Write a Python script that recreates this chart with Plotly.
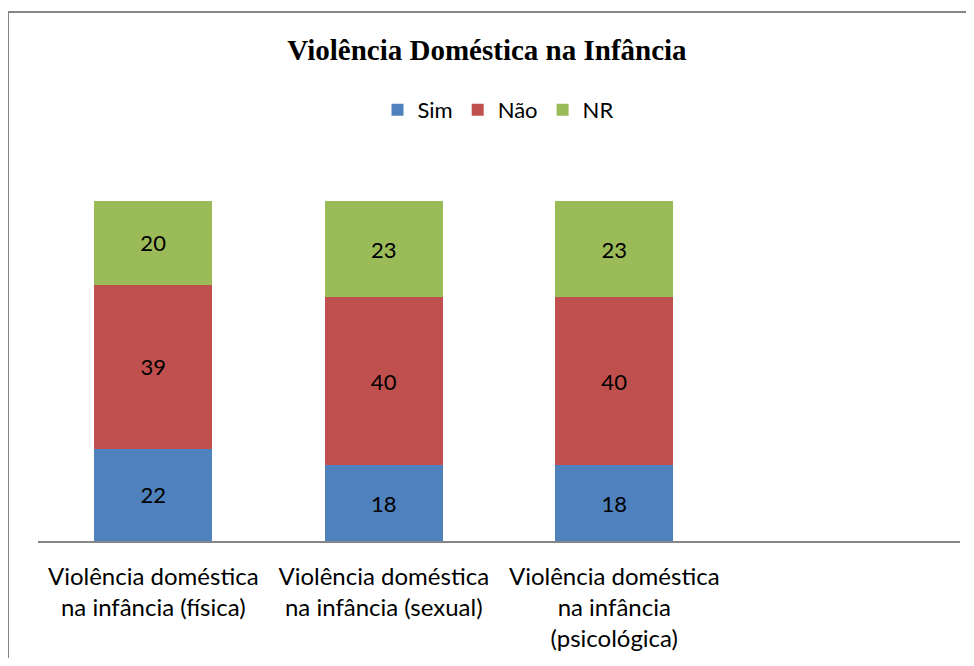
import plotly.graph_objects as go

categories = [
    "Violência doméstica<br>na infância (física)",
    "Violência doméstica<br>na infância (sexual)",
    "Violência doméstica<br>na infância<br>(psicológica)",
    " ",
]
sim = [22, 18, 18, None]
nao = [39, 40, 40, None]
nr = [20, 23, 23, None]

series = [("Sim", sim, "#4F81BD"), ("Não", nao, "#C0504D"), ("NR", nr, "#9BBB59")]

FONT = "Lato, Carlito, sans-serif"

fig = go.Figure()
for name, vals, color in series:
    fig.add_trace(go.Bar(
        x=categories, y=vals, name=name,
        marker=dict(color=color, line=dict(width=0)),
        text=[str(v) if v is not None else "" for v in vals],
        textposition="inside", insidetextanchor="middle",
        textfont=dict(family=FONT, size=22, color="black"),
        hoverinfo="skip",
    ))

# page body has an 8px margin; work in page pixels and subtract it
OFF = 8
W, H = 974 - 2 * OFF, 666 - 2 * OFF
# target plot area in page pixels: x 38..960, y 163..541
ml = 38 - OFF
mr = (W + OFF) - 960
mt = 163 - OFF
mb = (H + OFF) - 541
pw, ph = W - ml - mr, H - mt - mb

def px_to_paper_x(px):
    return (px - OFF - ml) / pw

def px_to_paper_y(py):
    return (H - mb - (py - OFF)) / ph

fig.update_layout(
    width=W, height=H,
    margin=dict(l=ml, r=mr, t=mt, b=mb),
    barmode="stack", bargap=0.49,
    plot_bgcolor="white", paper_bgcolor="white",
    title=dict(text="<b>Violência Doméstica na Infância</b>",
               font=dict(family="Liberation Serif, Times New Roman, serif", size=29, color="black"),
               x=0.5, xanchor="center", y=1 - (50 - OFF) / H, yanchor="middle"),
    legend=dict(orientation="h", x=px_to_paper_x(498), xanchor="center", y=px_to_paper_y(110), yanchor="middle",
                font=dict(family=FONT, size=22, color="black"),
                itemwidth=30, traceorder="normal"),
    showlegend=True,
    shapes=[dict(type="rect", xref="paper", yref="paper",
                 x0=px_to_paper_x(8), x1=px_to_paper_x(1000),
                 y0=px_to_paper_y(700), y1=px_to_paper_y(12),
                 line=dict(color="#868686", width=2), fillcolor="rgba(0,0,0,0)", layer="below")],
)
fig.update_xaxes(type="category", categoryorder="array", categoryarray=categories,
                 showline=True, linecolor="#868686", linewidth=2, ticks="",
                 showgrid=False, zeroline=False,
                 tickfont=dict(family=FONT, size=24, color="black"),
                 ticklabelstandoff=13)
fig.update_yaxes(range=[0, 90], visible=False, showgrid=False, zeroline=False)

fig.write_html("out.html")
